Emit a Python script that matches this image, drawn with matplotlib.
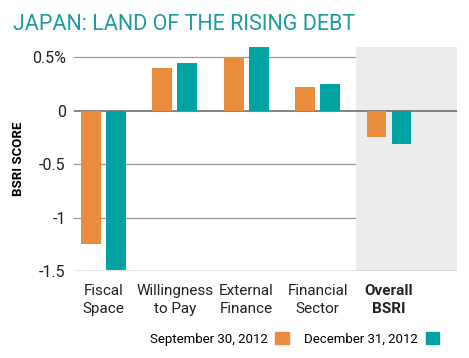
import matplotlib.pyplot as plt
import numpy as np
from matplotlib.patches import Patch

plt.rcParams['font.family'] = ['Roboto', 'DejaVu Sans']

categories = ['Fiscal\nSpace', 'Willingness\nto Pay', 'External\nFinance', 'Financial\nSector', 'Overall\nBSRI']
sep_2012 = [-1.25, 0.40, 0.50, 0.22, -0.25]
dec_2012 = [-1.49, 0.45, 0.60, 0.25, -0.31]
series_names = ['September 30, 2012', 'December 31, 2012']
yticks = [0.5, 0, -0.5, -1, -1.5]
ytick_labels = ['0.5%', '0', '-0.5', '-1', '-1.5']

orange = '#e98c3e'
teal = '#00a3a1'
title_color = '#1e9aa0'

fig = plt.figure(figsize=(4.69, 3.58), dpi=100)
ax = fig.add_axes([0.158, 0.243, 0.816, 0.627])

x = np.arange(len(categories))
w = 0.276
ax.bar(x - 0.175, sep_2012, w, color=orange, zorder=3)
ax.bar(x + 0.175, dec_2012, w, color=teal, zorder=3)

# shaded "overall" column
ax.axvspan(3.54, 4.95, color='#ebeced', lw=0, zorder=1)

for yv in [0.5, -0.5, -1]:
    ax.axhline(yv, color='#9a9a9a', lw=0.9, zorder=0)
ax.axhline(0, color='#6e6e6e', lw=1.2, zorder=2)
ax.axhline(-1.5, color='#8a8a8a', lw=1.0, zorder=2)

ax.set_xlim(-0.41, 4.95)
ax.set_ylim(-1.5, 0.6)
ax.set_yticks(yticks)
ax.set_yticklabels(ytick_labels, fontsize=11.5, color='#222222')
ax.tick_params(axis='y', length=0, pad=6)
ax.set_xticks([])
for s in ax.spines.values():
    s.set_visible(False)

ax.set_ylabel('BSRI SCORE', fontsize=9.5, fontweight='bold')
ax.yaxis.set_label_coords(-0.128, 0.5)

for i, c in enumerate(categories):
    ax.text(x[i], -1.625, c, ha='center', va='top', fontsize=11,
            fontweight='bold' if i == 4 else 'normal', color='#222222',
            linespacing=1.3, transform=ax.transData)

fig.text(0.028, 0.915, 'JAPAN: LAND OF THE RISING DEBT', fontsize=15.5,
         color=title_color, ha='left', va='baseline')

handles = [Patch(color=orange), Patch(color=teal)]
fig.legend(handles, series_names, loc='center', bbox_to_anchor=(0.628, 0.053),
           ncol=2, frameon=False, markerfirst=False, fontsize=9.5,
           handlelength=1.0, handleheight=1.0, handletextpad=0.6, columnspacing=1.2)

fig.savefig('out.png', dpi=100)
